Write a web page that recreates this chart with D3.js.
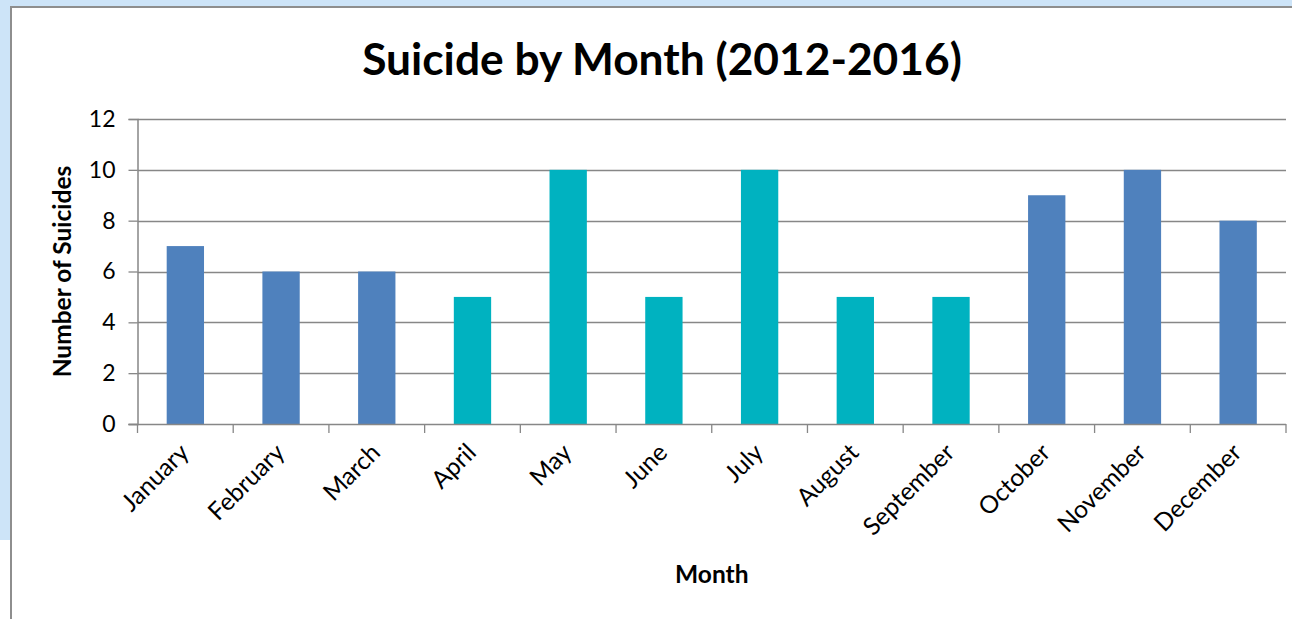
<!DOCTYPE html>
<html>
<head>
<meta charset="utf-8">
<script src="https://cdn.jsdelivr.net/npm/d3@7"></script>
<style>
  html, body { margin: 0; padding: 0; background: #fff; }
  svg { display: block; }
</style>
</head>
<body>
<svg id="chart" width="1292" height="619"></svg>
<script>
// Monthly suicide counts, 2012-2016
const months = ["January", "February", "March", "April", "May", "June",
                "July", "August", "September", "October", "November", "December"];
const counts = [7, 6, 6, 5, 10, 5, 10, 5, 5, 9, 10, 8];
// Warm months (April-September) are shown in teal, the rest in blue
const season = ["cool", "cool", "cool", "warm", "warm", "warm",
                "warm", "warm", "warm", "cool", "cool", "cool"];
const yTicks = [0, 2, 4, 6, 8, 10, 12];

const W = 1292, H = 619;
const font = "Lato, 'Open Sans', sans-serif";
const svg = d3.select("#chart");

// window backdrop and chart frame
svg.append("rect").attr("x", 0).attr("y", 0).attr("width", W).attr("height", H).attr("fill", "#fff");
svg.append("rect").attr("x", 0).attr("y", 0).attr("width", W).attr("height", 7).attr("fill", "#cde4f8");
svg.append("rect").attr("x", 0).attr("y", 0).attr("width", 11).attr("height", 540).attr("fill", "#cde4f8");
svg.append("rect").attr("x", 11).attr("y", 7).attr("width", W).attr("height", H)
  .attr("fill", "#fff").attr("stroke", "#8e8e8e").attr("stroke-width", 2);

const m = { left: 137.5, right: 1286, top: 119, bottom: 424 };

const x = d3.scaleBand().domain(months).range([m.left, m.right])
  .paddingInner(0.61).paddingOuter(0.305);
const y = d3.scaleLinear().domain([0, 12]).range([m.bottom, m.top]);

const color = { cool: "#4f81bd", warm: "#00b2c0" };

// horizontal gridlines
svg.append("g").selectAll("line").data(yTicks.filter(d => d > 0)).join("line")
  .attr("x1", m.left).attr("x2", m.right)
  .attr("y1", d => Math.round(y(d)) + 0.5).attr("y2", d => Math.round(y(d)) + 0.5)
  .attr("stroke", "#878787").attr("stroke-width", 1.3);

// bars
svg.append("g").selectAll("rect").data(months).join("rect")
  .attr("x", d => x(d))
  .attr("width", x.bandwidth())
  .attr("y", (d, i) => y(counts[i]))
  .attr("height", (d, i) => y(0) - y(counts[i]))
  .attr("fill", (d, i) => color[season[i]]);

// y axis
const yAxis = svg.append("g").attr("transform", `translate(${m.left},0)`)
  .call(d3.axisLeft(y).tickValues(yTicks).tickSize(9).tickPadding(13));
yAxis.select(".domain").attr("stroke", "#878787").attr("stroke-width", 1.5);
yAxis.selectAll(".tick line").attr("stroke", "#878787").attr("stroke-width", 1.3);
yAxis.selectAll(".tick text").attr("font-family", font).attr("font-size", 23).attr("fill", "#000");

// x axis: ticks sit on the category boundaries
const xLine = d3.scaleLinear().domain([0, months.length]).range([m.left, m.right]);
const xAxis = svg.append("g").attr("transform", `translate(0,${m.bottom})`);
xAxis.append("line").attr("x1", m.left - 9).attr("x2", m.right)
  .attr("y1", 0.5).attr("y2", 0.5).attr("stroke", "#878787").attr("stroke-width", 1.5);
xAxis.selectAll("line.tk").data(d3.range(months.length + 1)).join("line").attr("class", "tk")
  .attr("x1", d => xLine(d)).attr("x2", d => xLine(d))
  .attr("y1", 0).attr("y2", 9).attr("stroke", "#878787").attr("stroke-width", 1.3);
xAxis.selectAll("text").data(months).join("text")
  .attr("transform", d => `translate(${x(d) + x.bandwidth() / 2 + 5},${30}) rotate(-45)`)
  .attr("text-anchor", "end")
  .attr("font-family", font).attr("font-size", 24.5).attr("fill", "#000")
  .text(d => d);

// titles
svg.append("text").attr("x", 662).attr("y", 75).attr("text-anchor", "middle")
  .attr("font-family", font).attr("font-weight", "bold").attr("font-size", 44.3)
  .attr("fill", "#000").text("Suicide by Month (2012-2016)");

svg.append("text").attr("transform", `translate(71,${(m.top + m.bottom) / 2}) rotate(-90)`)
  .attr("text-anchor", "middle")
  .attr("font-family", font).attr("font-weight", "bold").attr("font-size", 24.5)
  .attr("fill", "#000").text("Number of Suicides");

svg.append("text").attr("x", (m.left + m.right) / 2).attr("y", 583).attr("text-anchor", "middle")
  .attr("font-family", font).attr("font-weight", "bold").attr("font-size", 24.5)
  .attr("fill", "#000").text("Month");
</script>
</body>
</html>
